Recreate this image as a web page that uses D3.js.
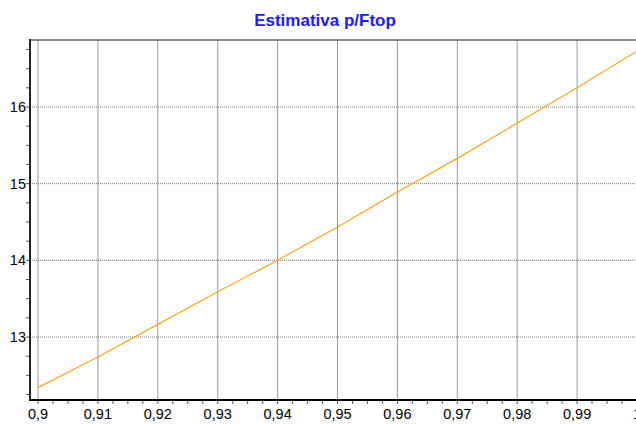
<!DOCTYPE html>
<html lang="pt">
<head>
    <meta charset="UTF-8"/>
    <title>Estimativa p/Ftop</title>
    <script src="https://d3js.org/d3.v7.min.js"></script>
    <style>
        body { margin: 0; background: #fff; }
        text { font-family: "Liberation Sans", Arial, sans-serif; }
    </style>
</head>
<body>
<script>
    // data
    var xValues = [0.90, 0.91, 0.92, 0.93, 0.94, 0.95, 0.96, 0.97, 0.98, 0.99, 1.00];
    var yValues = [12.34, 12.74, 13.165, 13.59, 14.0, 14.435, 14.89, 15.33, 15.79, 16.25, 16.73];
    var xTicks = [0.90, 0.91, 0.92, 0.93, 0.94, 0.95, 0.96, 0.97, 0.98, 0.99, 1.00];
    var yTicks = [13, 14, 15, 16];
    var title = "Estimativa p/Ftop";

    var w = 636, h = 425;
    var pLeft = 30, pTop = 40, pBottom = 400, pRight = 636;

    var xScale = d3.scaleLinear().domain([0.9, 1.0]).range([38, 637]);
    var yScale = d3.scaleLinear().domain([13, 16]).range([337, 107]);

    var svg = d3.select("body").append("svg")
        .attr("width", w)
        .attr("height", h);

    svg.append("defs").append("clipPath").attr("id", "clip")
        .append("rect")
        .attr("x", pLeft).attr("y", pTop)
        .attr("width", pRight - pLeft).attr("height", pBottom - pTop);

    // title
    svg.append("text")
        .attr("x", 325)
        .attr("y", 26)
        .attr("text-anchor", "middle")
        .style("font-size", "17px")
        .style("font-weight", "bold")
        .style("fill", "#1a1aff")
        .text(title);

    var plot = svg.append("g").attr("clip-path", "url(#clip)");

    // vertical grid
    plot.selectAll(".vgrid")
        .data(xTicks)
        .enter().append("line")
        .attr("x1", d => xScale(d)).attr("x2", d => xScale(d))
        .attr("y1", pTop).attr("y2", pBottom)
        .attr("stroke", "#9a9a9a")
        .attr("stroke-width", 1);

    // horizontal grid
    plot.selectAll(".hgrid")
        .data(yTicks)
        .enter().append("line")
        .attr("x1", pLeft).attr("x2", pRight)
        .attr("y1", d => yScale(d)).attr("y2", d => yScale(d))
        .attr("stroke", "#777")
        .attr("stroke-width", 1)
        .attr("stroke-dasharray", "1,1");

    // the line
    var line = d3.line()
        .x((d, i) => xScale(xValues[i]))
        .y(d => yScale(d));

    plot.append("path")
        .datum(yValues)
        .attr("fill", "none")
        .attr("stroke", "#ffa31a")
        .attr("stroke-width", 1.2)
        .attr("d", line);

    // top border
    svg.append("line")
        .attr("x1", pLeft).attr("x2", pRight)
        .attr("y1", pTop).attr("y2", pTop)
        .attr("stroke", "#666").attr("stroke-width", 1.5);

    // y axis minor ticks (every 0.25)
    var yMinor = d3.range(12.25, 17.0, 0.25).filter(v => yScale(v) > pTop && yScale(v) < pBottom);
    svg.selectAll(".ytick")
        .data(yMinor)
        .enter().append("line")
        .attr("x1", pLeft - 4).attr("x2", pLeft)
        .attr("y1", d => yScale(d)).attr("y2", d => yScale(d))
        .attr("stroke", "#555");

    svg.selectAll(".ylab")
        .data(yTicks)
        .enter().append("text")
        .attr("x", pLeft - 4)
        .attr("y", d => yScale(d))
        .attr("dy", "0.35em")
        .attr("text-anchor", "end")
        .style("font-size", "14.5px")
        .text(d => d);

    // x axis minor ticks (every 0.0025)
    var xMinor = d3.range(0, 41).map(i => 0.9 + i * 0.0025).filter(v => xScale(v) <= pRight);
    svg.selectAll(".xtick")
        .data(xMinor)
        .enter().append("line")
        .attr("x1", d => xScale(d)).attr("x2", d => xScale(d))
        .attr("y1", pBottom).attr("y2", pBottom + 4)
        .attr("stroke", "#555");

    svg.selectAll(".xlab")
        .data(xTicks)
        .enter().append("text")
        .attr("x", d => xScale(d))
        .attr("y", 419)
        .attr("text-anchor", "middle")
        .style("font-size", "14.5px")
        .text(d => String(+d.toFixed(2)).replace(".", ","));

    // axes lines
    svg.append("line")
        .attr("x1", pLeft).attr("x2", pLeft)
        .attr("y1", pTop - 1).attr("y2", pBottom + 1)
        .attr("stroke", "#222").attr("stroke-width", 2);

    svg.append("line")
        .attr("x1", pLeft - 1).attr("x2", pRight)
        .attr("y1", pBottom).attr("y2", pBottom)
        .attr("stroke", "#000").attr("stroke-width", 2);
</script>
</body>
</html>
